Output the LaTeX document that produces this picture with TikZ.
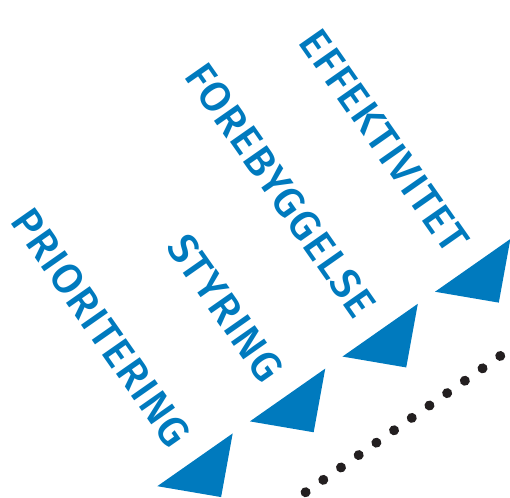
\documentclass[tikz,border=0pt]{standalone}
\usepackage{fontspec}
\setmainfont{Fira Sans}
\newfontfamily\lblfont{Fira Sans Medium}[LetterSpace=2.5]
\definecolor{ablue}{RGB}{0,122,190}
\definecolor{dotblack}{RGB}{35,31,32}
\begin{document}
\begin{tikzpicture}[x=1pt,y=1pt,
  lbl/.style={anchor=base east, inner sep=0pt, text=ablue,
    font=\lblfont\fontsize{42}{42}\selectfont, transform shape},
  tri/.style={fill=ablue},
  dotc/.style={fill=dotblack}]
\useasboundingbox (0,0) rectangle (510,497);
\begin{scope}[shift={(0,497)}, rotate=-55]
  % labels (u along text, v across)
  \node[lbl] (prio) at (466,-119.5) {PRIORITERING};
  \node[lbl] (styr) at (466,-6.5) {STYRING};
  \node[lbl] (fore) at (466,106.5) {FOREBYGGELSE};
  \node[lbl] (effe) at (466,219.5) {EFFEKTIVITET};
  % arrow heads
  \foreach \c in {-104,9,122,235}{
    \fill[tri] (488.5,\c-46) -- (534,\c) -- (488.5,\c+46) -- cycle;
  }
  % dotted continuation
  \foreach \i in {0,...,11}{
    \fill[dotc] (578.5,-32+21.6*\i) circle (5);
  }
\end{scope}
\end{tikzpicture}
\end{document}
